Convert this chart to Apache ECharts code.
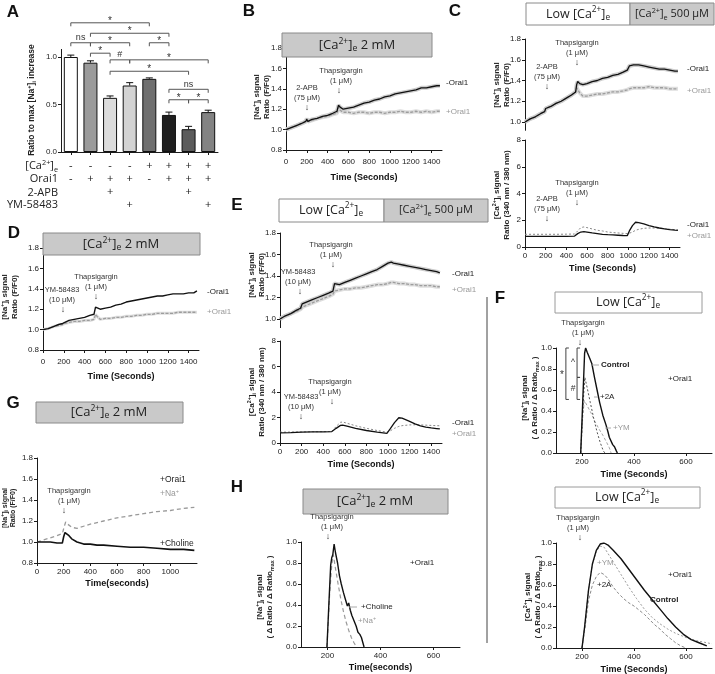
<!DOCTYPE html>
<html>
<head>
<meta charset="utf-8">
<title>Figure</title>
<script src="https://cdn.jsdelivr.net/npm/echarts@6.0.0/dist/echarts.min.js"></script>
<style>
html,body{margin:0;padding:0;background:#ffffff;}
#chart{width:715px;height:674px;}
</style>
</head>
<body>
<div id="chart"></div>
<script>
// ---------------- DATA ----------------
// Panel A
const barCategories = ['1','2','3','4','5','6','7','8'];
const barValues = [1.00,0.94,0.57,0.70,0.77,0.39,0.24,0.42];
const barErrors = [0.02,0.02,0.02,0.03,0.01,0.03,0.03,0.02];
const rowCa = ['-','-','-','-','+','+','+','+'];
const rowOrai1 = ['-','+','+','+','-','+','+','+'];
const row2APB = ['','','+','','','','+',''];
const rowYM = ['','','','+','','','','+'];
const rowNames = ['[Ca{p|2+}]{b|e}','Orai1','2-APB','YM-58483'];
// [from bar, to bar, height, label]
const sigBrackets = [[0,4,1.36,'*'],[1,5,1.25,'*'],[0,1,1.15,'ns'],[1,3,1.15,'*'],[4,5,1.15,'*'],[1,2,1.04,'*'],[2,3,0.97,'#'],[3,7,0.97,'*'],[2,6,0.85,'*'],[5,7,0.66,'ns'],[5,6,0.55,'*'],[6,7,0.55,'*']];
const aTicks = [0,0.5,1.0];

// tick values
const naTicks = [0.8,1.0,1.2,1.4,1.6,1.8];
const naTicksTop = [1.0,1.2,1.4,1.6,1.8];
const caTicks = [0,2,4,6,8];
const timeTicks = [0,200,400,600,800,1000,1200,1400];
const gTimeTicks = [0,200,400,600,800,1000];
const shortTimeTicks = [200,400,600];
const normTicks = [0,0.2,0.4,0.6,0.8,1.0];

// Panel B
const bTime = [0,50,100,150,190,200,210,250,300,350,400,450,490,505,520,550,600,650,700,750,800,850,900,950,1000,1050,1100,1150,1200,1250,1300,1350,1400,1450,1480];
const bMinusOrai1 = [1.00,1.02,1.04,1.06,1.08,1.10,1.08,1.10,1.11,1.13,1.14,1.16,1.18,1.24,1.22,1.20,1.21,1.22,1.24,1.26,1.27,1.29,1.30,1.32,1.33,1.35,1.36,1.37,1.38,1.39,1.41,1.41,1.42,1.43,1.43];
const bPlusOrai1 = [1.00,1.02,1.04,1.06,1.08,1.11,1.08,1.09,1.11,1.12,1.13,1.15,1.16,1.22,1.19,1.17,1.17,1.16,1.17,1.17,1.16,1.17,1.17,1.16,1.17,1.17,1.18,1.17,1.17,1.18,1.17,1.18,1.17,1.18,1.18];

// Panel C
const cTime = [0,50,100,150,190,200,210,250,300,350,400,450,490,500,510,530,560,600,650,700,750,800,850,900,950,990,1010,1050,1100,1150,1200,1250,1300,1350,1400,1450,1480];
const cNaMinusOrai1 = [1.00,1.03,1.05,1.08,1.10,1.13,1.13,1.15,1.18,1.20,1.23,1.26,1.29,1.36,1.39,1.37,1.36,1.37,1.39,1.40,1.42,1.43,1.45,1.46,1.48,1.50,1.54,1.55,1.55,1.54,1.53,1.52,1.51,1.51,1.50,1.49,1.49];
const cNaPlusOrai1 = [1.00,1.03,1.05,1.08,1.10,1.13,1.13,1.15,1.18,1.20,1.23,1.26,1.29,1.33,1.33,1.28,1.25,1.25,1.26,1.27,1.27,1.28,1.29,1.29,1.30,1.31,1.32,1.33,1.33,1.33,1.34,1.33,1.33,1.33,1.32,1.32,1.32];
const cCaTime = [0,100,200,300,400,480,510,540,570,600,650,700,750,800,850,900,950,990,1010,1040,1070,1100,1150,1200,1250,1300,1350,1400,1450,1480];
const cCaMinusOrai1 = [0.80,0.80,0.80,0.80,0.80,0.82,1.00,1.12,1.15,1.12,1.05,1.00,0.95,0.92,0.90,0.88,0.86,0.85,1.20,1.60,1.85,1.82,1.72,1.60,1.50,1.42,1.35,1.30,1.26,1.25];
const cCaPlusOrai1 = [0.95,0.95,0.95,0.95,0.96,0.97,1.20,1.45,1.50,1.45,1.35,1.25,1.20,1.12,1.08,1.05,1.02,1.00,1.03,1.12,1.25,1.32,1.40,1.42,1.42,1.40,1.37,1.33,1.30,1.28];

// Panel D
const dTime = [0,50,100,150,190,200,210,250,300,350,400,450,490,505,520,550,600,650,700,750,800,850,900,950,1000,1050,1100,1150,1200,1250,1300,1350,1400,1450,1480];
const dMinusOrai1 = [1.00,1.01,1.03,1.05,1.06,1.07,1.07,1.09,1.10,1.11,1.12,1.14,1.15,1.22,1.22,1.20,1.21,1.22,1.24,1.25,1.27,1.28,1.29,1.30,1.31,1.32,1.33,1.33,1.34,1.35,1.35,1.35,1.36,1.36,1.38];
const dPlusOrai1 = [1.00,1.01,1.03,1.04,1.05,1.06,1.06,1.07,1.08,1.08,1.09,1.09,1.10,1.15,1.13,1.10,1.11,1.11,1.12,1.12,1.13,1.13,1.14,1.14,1.15,1.15,1.16,1.16,1.16,1.16,1.17,1.17,1.17,1.17,1.17];

// Panel E
const eTime = [0,50,100,150,190,205,220,250,300,350,400,450,490,505,520,550,600,650,700,750,800,850,900,950,1000,1030,1050,1100,1150,1200,1250,1300,1350,1400,1450,1480];
const eNaMinusOrai1 = [1.00,1.03,1.05,1.08,1.10,1.14,1.15,1.16,1.18,1.20,1.22,1.24,1.26,1.33,1.33,1.32,1.34,1.36,1.38,1.40,1.42,1.44,1.46,1.49,1.52,1.53,1.52,1.51,1.50,1.49,1.48,1.47,1.46,1.45,1.44,1.43];
const eNaPlusOrai1 = [1.00,1.03,1.05,1.07,1.09,1.11,1.12,1.13,1.15,1.17,1.19,1.21,1.23,1.26,1.26,1.27,1.28,1.28,1.29,1.29,1.30,1.31,1.32,1.32,1.33,1.34,1.34,1.33,1.33,1.32,1.32,1.31,1.31,1.31,1.30,1.30];
const eCaTime = [0,100,200,300,400,480,520,560,580,620,700,800,900,990,1020,1060,1100,1130,1200,1250,1300,1350,1400,1450,1480];
const eCaMinusOrai1 = [0.80,0.82,0.85,0.87,0.88,0.90,1.15,1.38,1.40,1.32,1.15,0.98,0.85,0.75,1.10,1.60,1.98,1.95,1.70,1.50,1.35,1.25,1.18,1.13,1.10];
const eCaPlusOrai1 = [0.85,0.86,0.87,0.88,0.89,0.90,1.30,1.62,1.65,1.55,1.35,1.15,0.98,0.85,0.95,1.15,1.30,1.36,1.42,1.43,1.42,1.40,1.38,1.36,1.35];

// Panel F (normalised)
const fNaCtrlTime = [195,203,210,214,220,230,238,248,258,268,280,292,300,305,312,318,325,332,336];
const fNaCtrl = [0,0.50,0.95,1.00,0.96,0.90,0.85,0.72,0.60,0.48,0.36,0.27,0.20,0.15,0.15,0.08,0.06,0.02,0];
const fNa2ATime = [195,205,211,220,232,245,258,270,282,288];
const fNa2A = [0,0.50,0.72,0.62,0.48,0.33,0.20,0.10,0.02,0];
const fNaYMTime = [195,203,209,220,235,250,265,280,295,305,312];
const fNaYM = [0,0.35,0.50,0.45,0.38,0.30,0.23,0.17,0.10,0.05,0];
const fCaCtrlTime = [200,210,225,240,255,270,285,300,320,350,380,410,440,470,500,530,560,590,620,650,680];
const fCaCtrl = [0,0.20,0.55,0.80,0.93,0.99,1.00,0.98,0.93,0.85,0.75,0.65,0.55,0.46,0.37,0.28,0.20,0.13,0.08,0.05,0.02];
const fCaYMTime = [200,210,225,240,255,270,285,300,320,350,380,410,440,470,500,530,560,600,640,680,700];
const fCaYM = [0,0.20,0.55,0.80,0.92,0.97,0.96,0.90,0.82,0.70,0.58,0.47,0.37,0.29,0.23,0.18,0.14,0.10,0.07,0.05,0.04];
const fCa2ATime = [200,212,225,240,255,270,285,300,320,340,360,380,400,420,440,460,480,500,520,540,560,580,600];
const fCa2A = [0,0.20,0.45,0.60,0.68,0.72,0.70,0.66,0.58,0.52,0.47,0.43,0.40,0.36,0.32,0.27,0.22,0.18,0.13,0.09,0.05,0.02,0];
// [x position, from, to, label]
const fBrackets = [[138,1.0,0.51,'*'],[181,1.0,0.72,'^'],[181,0.72,0.51,'#']];

// Panel G
const gNaTime = [0,50,100,150,190,205,215,230,260,300,350,400,500,600,700,800,900,1000,1100,1180];
const gNa = [1.00,1.02,1.04,1.06,1.08,1.15,1.19,1.17,1.14,1.13,1.15,1.17,1.20,1.23,1.25,1.27,1.29,1.30,1.32,1.33];
const gCholineTime = [0,50,100,150,190,200,210,220,240,260,300,350,400,450,500,600,700,800,900,1000,1100,1180];
const gCholine = [1.00,1.00,1.00,0.99,0.99,1.05,1.09,1.10,1.06,1.03,1.00,0.98,0.98,0.97,0.97,0.96,0.95,0.95,0.94,0.93,0.93,0.92];

// Panel H
const hCholineTime = [198,205,212,216,220,225,230,238,245,252,260,268,275,280,286,292,300,308,315,322,328,333,338];
const hCholine = [0,0.40,0.78,0.85,0.88,0.98,0.90,0.80,0.68,0.60,0.52,0.45,0.39,0.42,0.35,0.30,0.25,0.20,0.14,0.12,0.09,0.09,0];
const hNaTime = [198,208,216,222,230,240,250,260,270,280,290,300,310];
const hNa = [0,0.50,0.78,0.88,0.75,0.60,0.46,0.34,0.24,0.16,0.09,0.04,0];

// ---------------- STYLE / HELPERS ----------------
const FONT = "'Liberation Sans', Arial, sans-serif";
const OFONT = "'Open Sans', 'Liberation Sans', sans-serif";
const AX = '#1a1a1a';
const GRAYBOX = '#c9c9c9';
const PI = Math.PI;

function zip(t, v) { return t.map(function (x, i) { return [x, v[i]]; }); }

function richFor(size, weight, family) {
  const s = Math.max(5, Math.round(size * 0.66 * 10) / 10);
  return {
    p: { font: weight + ' ' + s + 'px ' + family, verticalAlign: 'top' },
    b: { font: weight + ' ' + s + 'px ' + family, verticalAlign: 'bottom' }
  };
}
function T(x, y, text, o) {
  o = o || {};
  const size = o.size || 8, weight = o.bold ? 'bold' : 'normal', family = o.family || FONT;
  const al = o.align || 'center', va = o.va || 'middle';
  return { type: 'text', x: x, y: y, z: 120, silent: true, rotation: o.rot || 0,
    style: { text: text, font: weight + ' ' + size + 'px ' + family, fill: o.color || '#222',
      align: al, verticalAlign: va, textAlign: al, textVerticalAlign: va,
      lineHeight: o.lh || Math.round(size * 1.25), rich: richFor(size, weight, family) } };
}
function box(x1, y1, x2, y2, fill, stroke) {
  return { type: 'rect', z: 110, silent: true, shape: { x: x1, y: y1, width: x2 - x1, height: y2 - y1 },
    style: { fill: fill, stroke: stroke || '#8a8a8a', lineWidth: 1 } };
}
function L(x1, y1, x2, y2, color, w) {
  return { type: 'line', z: 120, silent: true, shape: { x1: x1, y1: y1, x2: x2, y2: y2 },
    style: { stroke: color || '#222', lineWidth: w || 1 } };
}
function fmt(dec) { return function (v) { return dec == null ? String(v) : Number(v).toFixed(dec); }; }

function yAx(gi, min, max, ticks, dec, o) {
  o = o || {};
  return { type: 'value', gridIndex: gi, min: min, max: max,
    axisLine: { show: true, onZero: false, lineStyle: { color: AX, width: 1 } },
    axisTick: { show: true, length: 3, customValues: ticks, lineStyle: { color: AX, width: 1 } },
    axisLabel: { customValues: ticks, fontSize: o.fs || 8, color: '#222', fontFamily: FONT, margin: o.margin || 4, formatter: fmt(dec) },
    splitLine: { show: false } };
}
function xAx(gi, min, max, ticks, name, o) {
  o = o || {};
  return { type: 'value', gridIndex: gi, min: min, max: max, show: o.show !== false,
    axisLine: { show: true, onZero: false, lineStyle: { color: AX, width: 1 } },
    axisTick: { show: true, length: 3, customValues: ticks, lineStyle: { color: AX, width: 1 } },
    axisLabel: { customValues: ticks, fontSize: o.fs || 8, color: '#222', fontFamily: FONT, margin: o.margin || 6, formatter: fmt(null) },
    splitLine: { show: false },
    name: name || '', nameLocation: 'middle', nameGap: o.gap || 18,
    nameTextStyle: { fontWeight: 'bold', fontSize: o.nfs || 9, fontFamily: FONT, color: '#111' } };
}
function ln(gi, data, color, width, type, z) {
  return { type: 'line', xAxisIndex: gi, yAxisIndex: gi, data: data, showSymbol: false, symbol: 'none',
    lineStyle: { color: color, width: width, type: type || 'solid' }, z: z || 3, silent: true, animation: false };
}

// ---------------- LAYOUT ----------------
const grids = [
  { left: 61, top: 49.4, width: 157, height: 102.6 },   // 0 A
  { left: 286, top: 48, width: 156, height: 102 },      // 1 B
  { left: 525, top: 39, width: 155, height: 91.3 },     // 2 C top
  { left: 525, top: 140, width: 155, height: 107 },     // 3 C bottom
  { left: 43, top: 248, width: 156, height: 102 },      // 4 D
  { left: 280, top: 233, width: 162, height: 94.6 },    // 5 E top
  { left: 280, top: 341, width: 162, height: 102 },     // 6 E bottom
  { left: 556, top: 348, width: 156, height: 105 },     // 7 F top
  { left: 556, top: 543, width: 156, height: 105 },     // 8 F bottom
  { left: 37, top: 458, width: 160, height: 105 },      // 9 G
  { left: 301, top: 542, width: 159, height: 105 }      // 10 H
].map(function (g) { g.outerBoundsMode = 'none'; g.containLabel = false; return g; });

const aRows = [rowCa, rowOrai1, row2APB, rowYM];

const xAxes = [
  { type: 'category', gridIndex: 0, data: barCategories,
    axisLine: { show: true, lineStyle: { color: AX, width: 1 } },
    axisTick: { show: true, alignWithLabel: true, length: 3, lineStyle: { color: AX } },
    axisLabel: { interval: 0, margin: 7.5, fontSize: 11, lineHeight: 13, color: '#222', fontFamily: OFONT,
      formatter: function (v, i) { return aRows.map(function (r) { return r[i] || ' '; }).join('\n'); } } },
  xAx(1, 0, 1500, timeTicks, 'Time (Seconds)', { margin: 8, gap: 23 }),
  xAx(2, 0, 1500, timeTicks, '', { show: false }),
  xAx(3, 0, 1500, timeTicks, 'Time (Seconds)', { margin: 5, gap: 17 }),
  xAx(4, 0, 1500, timeTicks, 'Time (Seconds)', { margin: 8, gap: 22 }),
  xAx(5, 0, 1500, timeTicks, '', { show: false }),
  xAx(6, 0, 1500, timeTicks, 'Time (Seconds)', { margin: 5, gap: 17 }),
  xAx(7, 100, 700, shortTimeTicks, 'Time (Seconds)', { margin: 5, gap: 17 }),
  xAx(8, 100, 700, shortTimeTicks, 'Time (Seconds)', { margin: 5, gap: 17 }),
  xAx(9, 0, 1200, gTimeTicks, 'Time(seconds)', { margin: 5, gap: 16 }),
  xAx(10, 100, 700, shortTimeTicks, 'Time(seconds)', { margin: 5, gap: 16 })
];
const yAxes = [
  yAx(0, 0, 1.08, aTicks, 1),
  yAx(1, 0.8, 1.8, naTicks, 1),
  yAx(2, 0.92, 1.8, naTicksTop, 1),
  yAx(3, 0, 8, caTicks, null),
  yAx(4, 0.8, 1.8, naTicks, 1),
  yAx(5, 0.92, 1.8, naTicksTop, 1),
  yAx(6, 0, 8, caTicks, null),
  yAx(7, 0, 1, normTicks, 1),
  yAx(8, 0, 1, normTicks, 1),
  yAx(9, 0.8, 1.8, naTicks, 1),
  yAx(10, 0, 1, normTicks, 1)
];

const barColors = ['#ffffff','#9b9b9b','#dcdcdc','#d3d3d3','#6f6f6f','#1f1f1f','#5c5c5c','#838383'];
const BAND = '#cdcdcd', BLACK = '#111111', GRAYL = '#9d9d9d';

const series = [
  { type: 'bar', xAxisIndex: 0, yAxisIndex: 0, barWidth: 14, silent: true, z: 2,
    data: barValues.map(function (v, i) { return { value: v, itemStyle: { color: barColors[i] } }; }),
    itemStyle: { borderColor: '#111', borderWidth: 1 } },
  { type: 'custom', xAxisIndex: 0, yAxisIndex: 0, z: 4, silent: true, clip: false,
    data: barValues.map(function (v, i) { return [i, v, barErrors[i]]; }),
    encode: { x: 0, y: 1 },
    renderItem: function (params, api) {
      const i = api.value(0), v = api.value(1), e = api.value(2);
      const b = api.coord([i, v]), t = api.coord([i, v + e]);
      return { type: 'group', children: [
        { type: 'line', shape: { x1: b[0], y1: b[1], x2: t[0], y2: t[1] }, style: { stroke: '#111', lineWidth: 1 } },
        { type: 'line', shape: { x1: t[0] - 3.5, y1: t[1], x2: t[0] + 3.5, y2: t[1] }, style: { stroke: '#111', lineWidth: 1 } }
      ] };
    } },
  { type: 'custom', xAxisIndex: 0, yAxisIndex: 0, z: 4, silent: true, clip: false,
    data: sigBrackets.map(function (s) { return [s[0], s[1], s[2]]; }),
    encode: { x: [0, 1], y: 2 },
    renderItem: function (params, api) {
      const p1 = api.coord([api.value(0), api.value(2)]), p2 = api.coord([api.value(1), api.value(2)]);
      const lbl = sigBrackets[params.dataIndex][3];
      const d = 3.5;
      const fs = lbl === '*' ? 10 : 9;
      return { type: 'group', children: [
        { type: 'polyline', shape: { points: [[p1[0], p1[1] + d], [p1[0], p1[1]], [p2[0], p2[1]], [p2[0], p2[1] + d]] },
          style: { stroke: '#555', lineWidth: 1, fill: null } },
        { type: 'text', x: (p1[0] + p2[0]) / 2, y: p1[1] + (lbl === '*' ? 3 : -0.5),
          style: { text: lbl, font: 'normal ' + fs + 'px ' + FONT, fill: '#333', align: 'center', verticalAlign: 'bottom', textAlign: 'center', textVerticalAlign: 'bottom' } }
      ] };
    } },

  // B
  ln(1, zip(bTime, bPlusOrai1), '#dedede', 4, 'solid', 2),
  ln(1, zip(bTime, bMinusOrai1), BAND, 4, 'solid', 2),
  ln(1, zip(bTime, bPlusOrai1), GRAYL, 1.3, [3, 1.5], 3),
  ln(1, zip(bTime, bMinusOrai1), BLACK, 1.3, 'solid', 4),
  // C top
  ln(2, zip(cTime, cNaPlusOrai1), '#dedede', 4, 'solid', 2),
  ln(2, zip(cTime, cNaMinusOrai1), BAND, 4, 'solid', 2),
  ln(2, zip(cTime, cNaPlusOrai1), GRAYL, 1.3, [3, 1.5], 3),
  ln(2, zip(cTime, cNaMinusOrai1), BLACK, 1.3, 'solid', 4),
  // C bottom
  ln(3, zip(cCaTime, cCaPlusOrai1), '#888888', 1, [2, 2], 3),
  ln(3, zip(cCaTime, cCaMinusOrai1), BLACK, 1.3, 'solid', 4),
  // D
  ln(4, zip(dTime, dPlusOrai1), '#dedede', 3, 'solid', 2),
  ln(4, zip(dTime, dPlusOrai1), GRAYL, 1.3, [3, 1.5], 3),
  ln(4, zip(dTime, dMinusOrai1), BLACK, 1.4, 'solid', 4),
  // E top
  ln(5, zip(eTime, eNaPlusOrai1), '#dedede', 4, 'solid', 2),
  ln(5, zip(eTime, eNaMinusOrai1), BAND, 4, 'solid', 2),
  ln(5, zip(eTime, eNaPlusOrai1), GRAYL, 1.3, [3, 1.5], 3),
  ln(5, zip(eTime, eNaMinusOrai1), BLACK, 1.3, 'solid', 4),
  // E bottom
  ln(6, zip(eCaTime, eCaPlusOrai1), '#888888', 1, [2, 2], 3),
  ln(6, zip(eCaTime, eCaMinusOrai1), BLACK, 1.3, 'solid', 4),
  // F top
  ln(7, zip(fNaYMTime, fNaYM), '#a5a5a5', 1, [3, 2], 3),
  ln(7, zip(fNa2ATime, fNa2A), '#555555', 1, [2, 2], 3),
  ln(7, zip(fNaCtrlTime, fNaCtrl), BLACK, 1.4, 'solid', 4),
  { type: 'custom', xAxisIndex: 7, yAxisIndex: 7, z: 4, silent: true, clip: false,
    data: fBrackets.map(function (s) { return [s[0], s[1], s[2]]; }),
    encode: { x: 0, y: [1, 2] },
    renderItem: function (params, api) {
      const p1 = api.coord([api.value(0), api.value(1)]), p2 = api.coord([api.value(0), api.value(2)]);
      const lbl = fBrackets[params.dataIndex][3];
      return { type: 'group', children: [
        { type: 'polyline', shape: { points: [[p1[0] + 3, p1[1]], [p1[0], p1[1]], [p2[0], p2[1]], [p2[0] + 3, p2[1]]] },
          style: { stroke: '#444', lineWidth: 1, fill: null } },
        { type: 'text', x: p1[0] - 4, y: (p1[1] + p2[1]) / 2 + (lbl === '*' ? 2 : 0),
          style: { text: lbl, font: 'normal ' + (lbl === '*' ? 10 : 8.5) + 'px ' + FONT, fill: '#333', align: 'center', verticalAlign: 'middle', textAlign: 'center', textVerticalAlign: 'middle' } }
      ] };
    } },
  // F bottom
  ln(8, zip(fCa2ATime, fCa2A), '#8a8a8a', 1, [3, 2], 3),
  ln(8, zip(fCaYMTime, fCaYM), '#9a9a9a', 1, [2, 2], 3),
  ln(8, zip(fCaCtrlTime, fCaCtrl), BLACK, 1.4, 'solid', 4),
  // G
  ln(9, zip(gNaTime, gNa), '#9a9a9a', 1.3, [4, 3], 3),
  ln(9, zip(gCholineTime, gCholine), BLACK, 1.6, 'solid', 4),
  // H
  ln(10, zip(hNaTime, hNa), '#9a9a9a', 1.2, [4, 3], 3),
  ln(10, zip(hCholineTime, hCholine), BLACK, 1.4, 'solid', 4)
];

// ---------------- ANNOTATIONS ----------------
const ROT = PI / 2;
const NA_T = '[Na{p|+}]{b|i} signal\nRatio (F/F0)';
const CA_T = '[Ca{p|2+}]{b|i} signal\nRatio (340 nm / 380 nm)';
const NA_N = '[Na{p|+}]{b|i} signal\n( Δ Ratio / Δ Ratio{b|max} )';
const CA_N = '[Ca{p|2+}]{b|i} signal\n( Δ Ratio / Δ Ratio{b|max} )';
const CAE = '[Ca{p|2+}]{b|e}';
const ann = { size: 7.5, color: '#333' };
function A3(x, y1, l1, l2, xa) {
  return [T(x, y1, l1, ann), T(x, y1 + 10, l2, ann), T(xa == null ? x : xa, y1 + 20, '↓', { size: 9, color: '#333' })];
}

const elements = [].concat(
  // panel letters
  [T(13, 12, 'A', { size: 17, bold: true, color: '#111' }), T(249, 11, 'B', { size: 17, bold: true, color: '#111' }),
   T(455, 11, 'C', { size: 17, bold: true, color: '#111' }), T(14, 233, 'D', { size: 17, bold: true, color: '#111' }),
   T(237, 205, 'E', { size: 17, bold: true, color: '#111' }), T(500, 298, 'F', { size: 17, bold: true, color: '#111' }),
   T(13, 403, 'G', { size: 17, bold: true, color: '#111' }), T(237, 487, 'H', { size: 17, bold: true, color: '#111' })],
  // A row names and y-title
  rowNames.map(function (n, i) { return T(58, [166, 179, 193, 205][i], n, { size: 11, family: OFONT, align: 'right' }); }),
  [T(32, 100, 'Ratio to max [Na{p|+}]{b|i} increase', { rot: ROT, bold: true, size: 8.5 })],
  // condition boxes
  [box(282, 33, 432, 57, GRAYBOX), T(357, 45, CAE + ' 2 mM', { size: 13, family: OFONT })],
  [box(526, 3, 630, 25, '#ffffff'), T(578, 14, 'Low ' + CAE, { size: 12.5, family: OFONT }),
   box(630, 3, 714, 25, GRAYBOX), T(672, 14, CAE + ' 500 μM', { size: 11, family: OFONT })],
  [box(43, 233, 200, 255, GRAYBOX), T(121, 244, CAE + ' 2 mM', { size: 13, family: OFONT })],
  [box(279, 199, 384, 222, '#ffffff'), T(331, 210, 'Low ' + CAE, { size: 12.5, family: OFONT }),
   box(384, 199, 488, 222, GRAYBOX), T(436, 210, CAE + ' 500 μM', { size: 11, family: OFONT })],
  [box(555, 292, 702, 313, '#ffffff', '#9a9a9a'), T(628, 302, 'Low ' + CAE, { size: 12.5, family: OFONT })],
  [box(555, 487, 700, 508, '#ffffff', '#9a9a9a'), T(627, 497, 'Low ' + CAE, { size: 12.5, family: OFONT })],
  [box(36, 402, 183, 423, GRAYBOX), T(109, 412, CAE + ' 2 mM', { size: 13, family: OFONT })],
  [box(303, 489, 448, 514, GRAYBOX), T(375, 501, CAE + ' 2 mM', { size: 13, family: OFONT })],
  // separator
  [L(487, 297, 487, 643, '#444', 1)],
  // y titles
  [T(262, 97, NA_T, { rot: ROT, bold: true, size: 8, lh: 10 }),
   T(502, 85, NA_T, { rot: ROT, bold: true, size: 8, lh: 10 }),
   T(502, 195, CA_T, { rot: ROT, bold: true, size: 8, lh: 10 }),
   T(10, 297, NA_T, { rot: ROT, bold: true, size: 8, lh: 10 }),
   T(257, 275, NA_T, { rot: ROT, bold: true, size: 8, lh: 10 }),
   T(257, 392, CA_T, { rot: ROT, bold: true, size: 8, lh: 10 }),
   T(530, 398, NA_N, { rot: ROT, bold: true, size: 8, lh: 10 }),
   T(533, 597, CA_N, { rot: ROT, bold: true, size: 8, lh: 10 }),
   T(9, 508, NA_T, { rot: ROT, bold: true, size: 7, lh: 8.5 }),
   T(265, 597, NA_N, { rot: ROT, bold: true, size: 8, lh: 10 })],
  // drug annotations
  A3(341, 71, 'Thapsigargin', '(1 μM)', 339), A3(307, 88, '2-APB', '(75 μM)'),
  A3(577, 43, 'Thapsigargin', '(1 μM)'), A3(547, 67, '2-APB', '(75 μM)'),
  A3(577, 183, 'Thapsigargin', '(1 μM)'), A3(547, 199, '2-APB', '(75 μM)'),
  A3(96, 277, 'Thapsigargin', '(1 μM)'), A3(62, 290, 'YM-58483', '(10 μM)', 63),
  A3(331, 245, 'Thapsigargin', '(1 μM)', 333), A3(298, 272, 'YM-58483', '(10 μM)', 300),
  A3(330, 382, 'Thapsigargin', '(1 μM)', 332), A3(301, 397, 'YM-58483', '(10 μM)'),
  A3(583, 323, 'Thapsigargin', '(1 μM)', 580),
  A3(578, 518, 'Thapsigargin', '(1 μM)', 580),
  A3(69, 491, 'Thapsigargin', '(1 μM)', 64),
  A3(332, 517, 'Thapsigargin', '(1 μM)', 328),
  // trace labels
  [T(446, 83, '-Orai1', { align: 'left', color: '#222' }), T(446, 112, '+Orai1', { align: 'left', color: '#999' }),
   T(687, 69, '-Orai1', { align: 'left', color: '#222' }), T(687, 91, '+Orai1', { align: 'left', color: '#999' }),
   T(687, 225, '-Orai1', { align: 'left', color: '#222' }), T(687, 236, '+Orai1', { align: 'left', color: '#999' }),
   T(207, 292, '-Orai1', { align: 'left', color: '#222' }), T(207, 312, '+Orai1', { align: 'left', color: '#999' }),
   T(452, 274, '-Orai1', { align: 'left', color: '#222' }), T(452, 290, '+Orai1', { align: 'left', color: '#999' }),
   T(452, 423, '-Orai1', { align: 'left', color: '#222' }), T(452, 434, '+Orai1', { align: 'left', color: '#999' }),
   // F top
   T(668, 379, '+Orai1', { align: 'left' }), T(601, 365, 'Control', { align: 'left', bold: true }),
   T(600, 397, '+2A', { align: 'left' }), T(613, 428, '+YM', { align: 'left', color: '#999' }),
   L(592, 365, 599, 365, '#aaa'), L(594, 397, 598, 397, '#aaa'), L(605, 428, 611, 428, '#aaa'),
   // F bottom
   T(668, 575, '+Orai1', { align: 'left' }), T(650, 600, 'Control', { align: 'left', bold: true }),
   T(597, 563, '+YM', { align: 'left', color: '#999' }), T(597, 585, '+2A', { align: 'left' }),
   // G
   T(160, 480, '+Orai1', { align: 'left', size: 8.5 }), T(160, 494, '+Na{p|+}', { align: 'left', size: 8.5, color: '#999' }),
   T(160, 544, '+Choline', { align: 'left', size: 8.5 }),
   // H
   T(410, 563, '+Orai1', { align: 'left' }), T(361, 607, '+Choline', { align: 'left' }),
   T(358, 621, '+Na{p|+}', { align: 'left', color: '#999' }), L(349, 607, 357, 607, '#aaa')]
);

const chart = echarts.init(document.getElementById('chart'), null, { renderer: 'canvas', width: 715, height: 674 });
chart.setOption({
  animation: false,
  backgroundColor: '#ffffff',
  textStyle: { fontFamily: FONT },
  grid: grids,
  xAxis: xAxes,
  yAxis: yAxes,
  series: series,
  graphic: { elements: elements }
});
</script>
</body>
</html>
